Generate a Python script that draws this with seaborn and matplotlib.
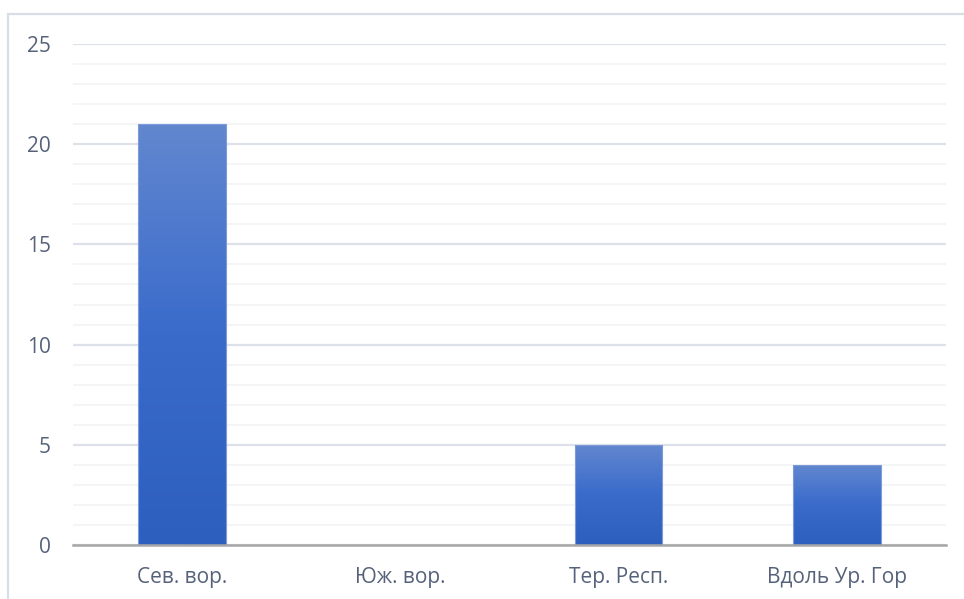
import matplotlib
matplotlib.use("Agg")
import matplotlib.pyplot as plt
import matplotlib.patches as mpatches
from matplotlib.colors import LinearSegmentedColormap
from matplotlib.ticker import MultipleLocator
import numpy as np
import pandas as pd
import seaborn as sns

categories = ["Сев. вор.", "Юж. вор.", "Тер. Респ.", "Вдоль Ур. Гор"]
values = [21, 0, 5, 4]
yticks = [0, 5, 10, 15, 20, 25]

sns.set_theme(style="white")
plt.rcParams["font.family"] = ["Open Sans", "DejaVu Sans"]

df = pd.DataFrame({"cat": categories, "val": values})

fig = plt.figure(figsize=(9.64, 5.99), dpi=100)
ax = fig.add_axes([73/964, 1-545/599, (946-73)/964, (545-44)/599])

sns.barplot(data=df, x="cat", y="val", ax=ax, color="#4472C4", width=0.4,
            saturation=1, edgecolor="none", zorder=3)

ax.set_ylim(0, 25)
ax.set_xlim(-0.5, len(categories) - 0.5)
ax.set_yticks(yticks)
ax.yaxis.set_minor_locator(MultipleLocator(1))
ax.grid(which="major", axis="y", color="#DDE2EA", linewidth=1.6, zorder=0)
ax.grid(which="minor", axis="y", color="#F3F4F6", linewidth=1.3, zorder=0)
ax.set_axisbelow(True)
for s in ["top", "right", "left"]:
    ax.spines[s].set_visible(False)
ax.spines["bottom"].set_color("#A6A6A6")
ax.spines["bottom"].set_linewidth(1.8)
ax.spines["bottom"].set_zorder(5)
ax.tick_params(axis="both", which="both", length=0, labelsize=15, labelcolor="#56627A")
ax.tick_params(axis="y", pad=16)
ax.tick_params(axis="x", pad=16)
ax.set_xlabel("")
ax.set_ylabel("")

# gradient fill over each bar
cmap = LinearSegmentedColormap.from_list("g", ["#2D5FBE", "#3A6BCB", "#6287CF"])
grad = np.linspace(0, 1, 256).reshape(-1, 1)
for p in list(ax.patches):
    x0, y0 = p.get_x(), p.get_y()
    w, h = p.get_width(), p.get_height()
    if h <= 0:
        continue
    im = ax.imshow(grad, cmap=cmap, origin="lower", aspect="auto",
                   extent=[x0, x0 + w, y0, y0 + h], zorder=4)
    im.set_clip_path(p)
    edge = mpatches.Rectangle((x0, y0), w, h, fill=False, edgecolor="#7C9BD8",
                              linewidth=0.8, zorder=4.5)
    ax.add_patch(edge)

ax.set_xlim(-0.5, len(categories) - 0.5)
ax.set_ylim(0, 25)

# outer frame
frame = mpatches.Rectangle((8/964, -0.05), 1.2, 1 - 14/599 + 0.05,
                           transform=fig.transFigure, fill=False,
                           edgecolor="#D9DEE6", linewidth=1.6)
fig.patches.append(frame)

fig.savefig("out.png", dpi=100)
